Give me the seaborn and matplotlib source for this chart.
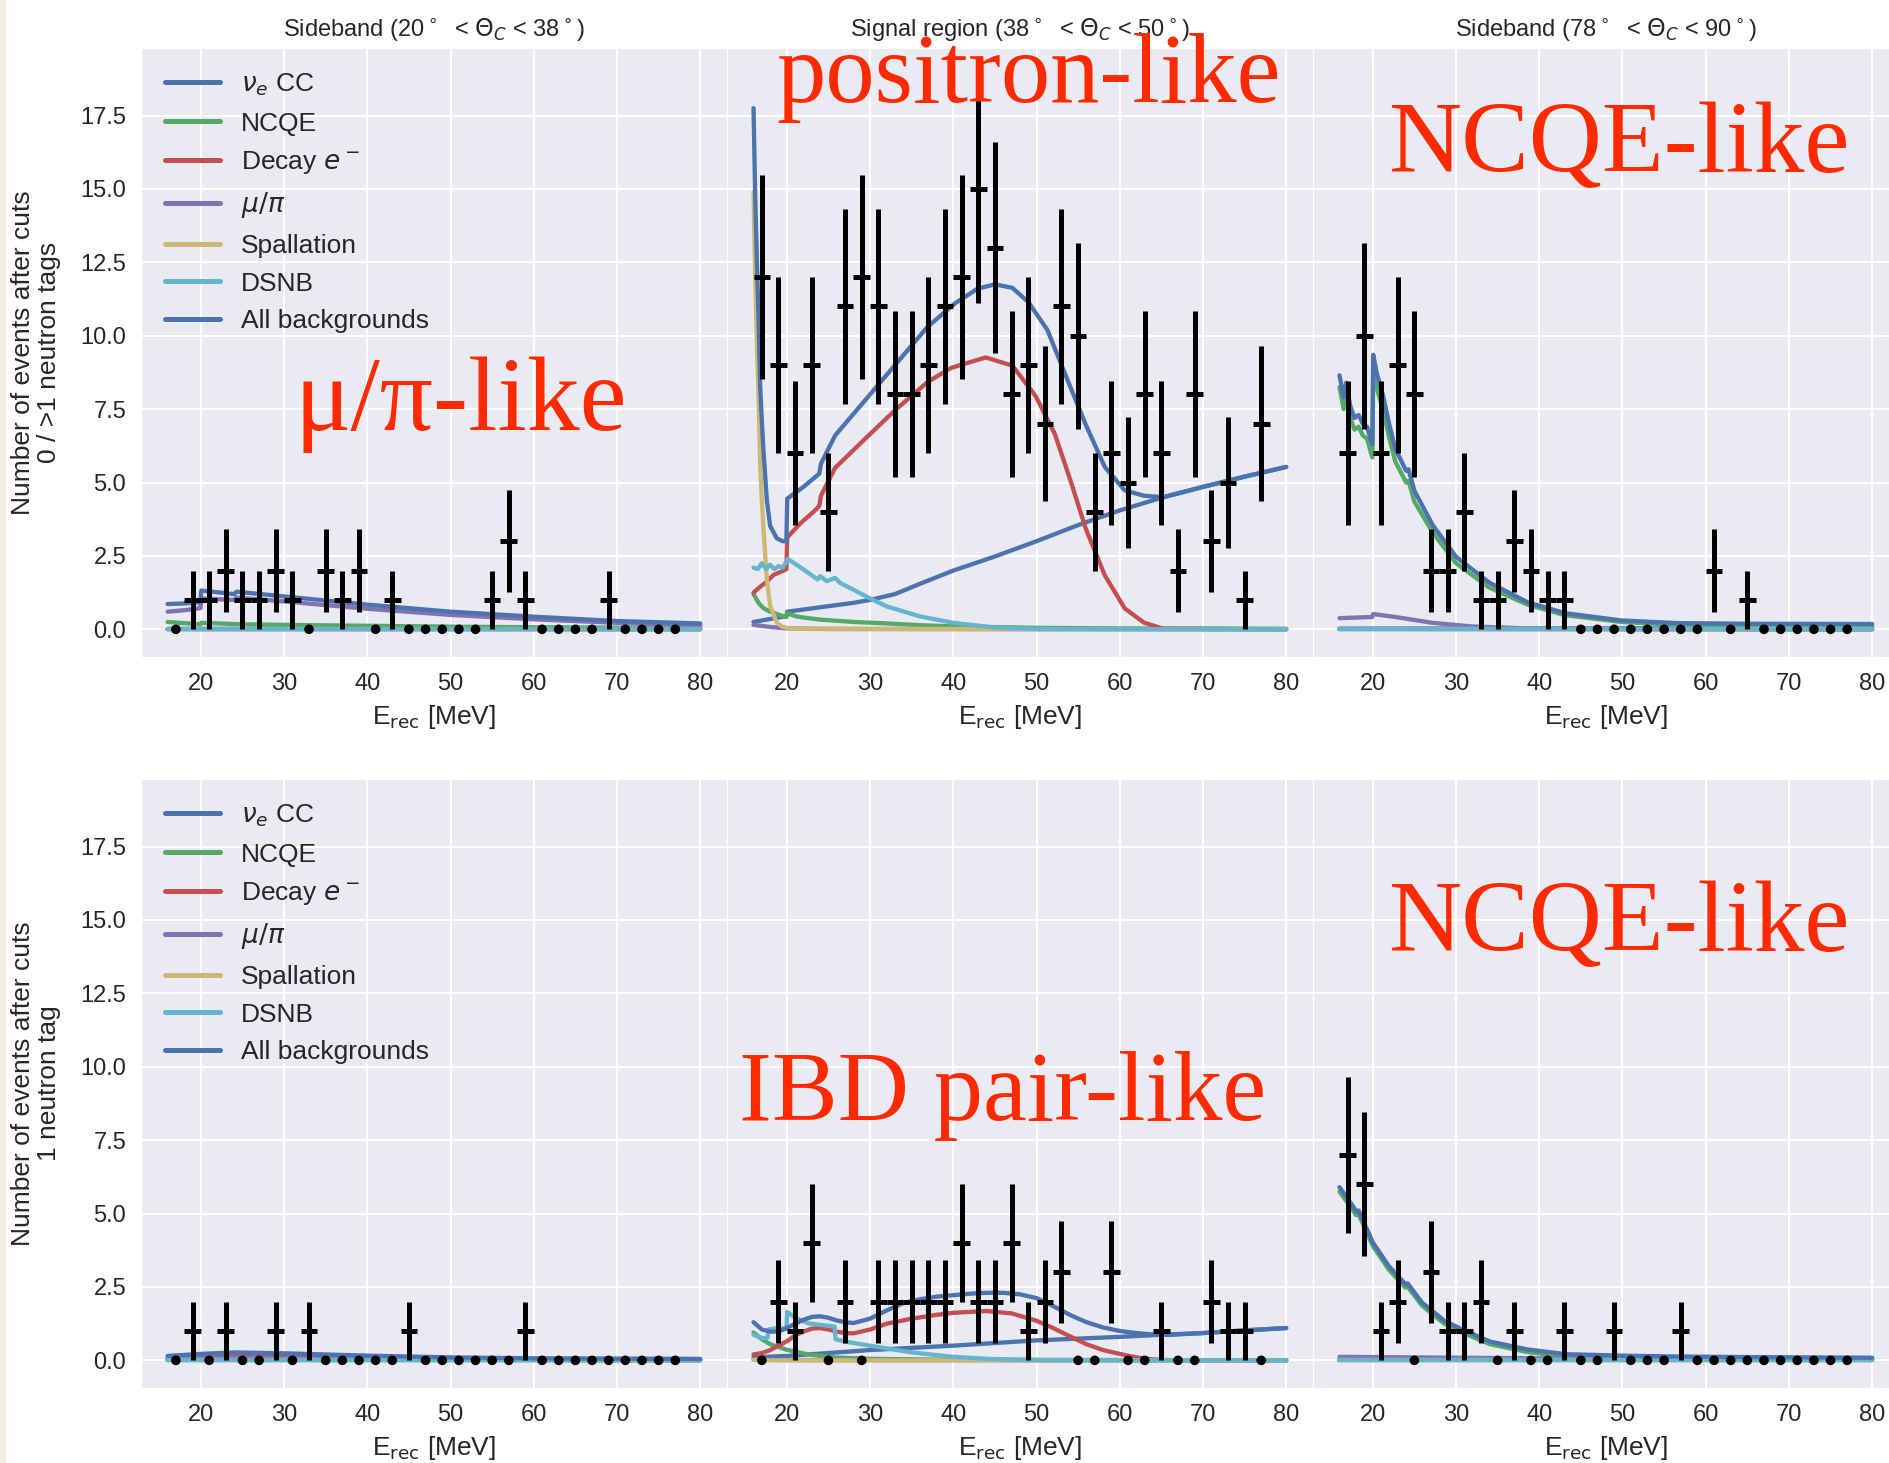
import numpy as np
import matplotlib
matplotlib.use("Agg")
import matplotlib.pyplot as plt
from matplotlib.lines import Line2D
from matplotlib.patches import Rectangle
import seaborn as sns

# ---------------------------------------------------------------- data
BIN_CENTERS = [17, 19, 21, 23, 25, 27, 29, 31, 33, 35, 37, 39, 41, 43, 45, 47,
               49, 51, 53, 55, 57, 59, 61, 63, 65, 67, 69, 71, 73, 75, 77]
BIN_HALF_WIDTH = 1.0

# observed counts per bin (row: 0/>1 neutron tags, 1 neutron tag)
TL_COUNTS = [0, 1, 1, 2, 1, 1, 2, 1, 0, 2, 1, 2, 0, 1, 0, 0, 0, 0, 0, 1, 3, 1, 0, 0, 0, 0, 1, 0, 0, 0, 0]
TM_COUNTS = [12, 9, 6, 9, 4, 11, 12, 11, 8, 8, 9, 11, 12, 15, 13, 8, 9, 7, 11, 10, 4, 6, 5, 8, 6, 2, 8, 3, 5, 1, 7]
TR_COUNTS = [6, 10, 6, 9, 8, 2, 2, 4, 1, 1, 3, 2, 1, 1, 0, 0, 0, 0, 0, 0, 0, 0, 2, 0, 1, 0, 0, 0, 0, 0, 0]
BL_COUNTS = [0, 1, 0, 1, 0, 0, 1, 0, 1, 0, 0, 0, 0, 0, 1, 0, 0, 0, 0, 0, 0, 1, 0, 0, 0, 0, 0, 0, 0, 0, 0]
BM_COUNTS = [0, 2, 1, 4, 0, 2, 0, 2, 2, 2, 2, 2, 4, 2, 2, 4, 1, 2, 3, 0, 0, 3, 0, 0, 1, 0, 0, 2, 1, 1, 0]
BR_COUNTS = [7, 6, 1, 2, 0, 3, 1, 1, 2, 0, 1, 0, 0, 1, 0, 0, 1, 0, 0, 0, 1, 0, 0, 0, 0, 0, 0, 0, 0, 0, 0]

# expected spectra: (E_rec [MeV], events) for each component
# --- top left: sideband 20-38 deg, 0 / >1 neutron tags
TL_NUE = ([16, 80], [0.01, 0.02])
TL_NCQE = ([16, 19.95, 20.05, 25, 30, 40, 50, 60, 80],
           [0.25, 0.17, 0.22, 0.17, 0.15, 0.12, 0.09, 0.07, 0.04])
TL_DECAY = ([16, 80], [0.01, 0.0])
TL_MUPI = ([16, 18, 19.95, 20.05, 24, 24.3, 30, 40, 50, 60, 70, 80],
           [0.6, 0.65, 0.72, 1.05, 1.0, 1.08, 0.95, 0.7, 0.49, 0.34, 0.22, 0.13])
TL_SPALL = ([16, 80], [0.0, 0.0])
TL_DSNB = ([16, 80], [0.01, 0.0])
TL_TOTAL = ([16, 18, 19.95, 20.05, 24, 24.3, 30, 40, 50, 60, 70, 80],
            [0.86, 0.88, 0.92, 1.32, 1.2, 1.28, 1.12, 0.84, 0.6, 0.43, 0.28, 0.2])

# --- top middle: signal region 38-50 deg, 0 / >1 neutron tags
TM_NUE = ([16, 19.95, 20.05, 24, 28, 30, 33, 36, 40, 45, 50, 55, 60, 65, 70, 75, 80],
          [0.25, 0.45, 0.6, 0.75, 0.9, 1.0, 1.2, 1.55, 2.0, 2.48, 3.0, 3.55, 4.05, 4.48, 4.85, 5.2, 5.53])
TM_NCQE = ([16, 16.6, 17.2, 18, 19.2, 19.95, 20.05, 21, 22, 24, 28, 32, 36, 40, 50, 60, 80],
           [1.2, 0.9, 0.72, 0.6, 0.48, 0.42, 0.55, 0.45, 0.4, 0.33, 0.25, 0.2, 0.14, 0.1, 0.05, 0.03, 0.02])
TM_DECAY = ([16, 16.8, 17.5, 18.4, 19.6, 19.95, 20.05, 21.6, 23.2, 23.9, 24.1, 25.8, 30, 33, 36.9,
             39.7, 43.9, 47.1, 49.9, 52.2, 54.1, 55.9, 58.2, 60.6, 62.9, 65.2, 80],
            [1.25, 1.45, 1.6, 1.85, 2.0, 2.05, 3.13, 3.6, 4.0, 4.2, 4.55, 5.5, 6.65, 7.46, 8.42,
             8.9, 9.26, 8.98, 7.94, 6.65, 5.05, 3.44, 1.84, 0.71, 0.23, 0.02, 0.0])
TM_MUPI = ([16, 18, 20, 25, 80], [0.15, 0.08, 0.03, 0.01, 0.0])
TM_SPALL = ([16, 16.2, 16.4, 16.6, 16.8, 17.0, 17.2, 17.6, 18.0, 18.8, 19.5, 20.5, 80],
            [14.9, 12.0, 9.8, 8.0, 5.6, 4.4, 3.4, 1.7, 0.8, 0.22, 0.08, 0.02, 0.0])
TM_DSNB = ([16, 16.5, 17, 17.5, 18, 18.5, 19, 19.5, 19.95, 20.1, 22, 23.7, 24, 24.8, 25.8, 26.4,
            28, 30, 32, 34, 36, 40, 45, 50, 80],
           [2.1, 2.05, 2.25, 2.05, 2.2, 2.05, 2.15, 2.1, 2.3, 2.4, 2.04, 1.7, 1.81, 1.64, 1.75, 1.58,
            1.35, 1.05, 0.78, 0.61, 0.44, 0.22, 0.06, 0.01, 0.0])
TM_TOTAL = ([16, 16.2, 16.4, 16.6, 16.8, 17.0, 17.2, 17.6, 18.0, 18.8, 19.5, 19.95, 20.05, 22,
             23.9, 24.1, 25.8, 30, 33, 36.9, 40.2, 42.9, 45, 47.1, 49, 51.3, 53.6, 55.9, 58.2,
             60.6, 62.9, 65.2, 70, 75, 80],
            [17.75, 14.8, 12.55, 10.7, 8.28, 7.08, 6.07, 4.39, 3.52, 3.1, 3.0, 3.0, 4.45, 4.85,
             5.3, 5.64, 6.6, 8.0, 9.0, 10.3, 11.1, 11.6, 11.75, 11.63, 11.15, 10.2, 8.58, 6.98, 5.53,
             4.73, 4.55, 4.5, 4.85, 5.2, 5.53])

# --- top right: sideband 78-90 deg, 0 / >1 neutron tags
TR_NUE = ([16, 80], [0.02, 0.05])
TR_NCQE = ([16, 16.5, 16.8, 17.3, 17.8, 18.3, 18.8, 19.3, 19.95, 20.05, 20.5, 21.2, 22, 22.7, 24,
            24.3, 25, 27.2, 30, 34, 38.6, 43.1, 49.9, 56.7, 65, 80],
           [8.25, 7.5, 8.0, 7.2, 6.8, 6.9, 6.6, 6.5, 5.85, 8.8, 8.2, 7.5, 6.5, 5.72, 5.0,
            5.05, 4.35, 3.3, 2.25, 1.42, 0.84, 0.48, 0.25, 0.15, 0.13, 0.12])
TR_DECAY = ([16, 80], [0.01, 0.0])
TR_MUPI = ([16, 19.95, 20.05, 22.7, 27.2, 31.8, 38.6, 50, 80],
           [0.38, 0.42, 0.52, 0.42, 0.22, 0.1, 0.03, 0.01, 0.0])
TR_SPALL = ([16, 80], [0.0, 0.0])
TR_DSNB = ([16, 80], [0.0, 0.0])
TR_TOTAL = ([16, 16.5, 16.8, 17.3, 17.8, 18.3, 18.8, 19.3, 19.95, 20.05, 20.5, 21.2, 22, 22.7, 24,
             24.3, 25, 27.2, 30, 34, 38.6, 43.1, 49.9, 56.7, 65, 80],
            [8.65, 7.9, 8.4, 7.6, 7.2, 7.3, 7.0, 6.9, 6.3, 9.35, 8.7, 8.0, 6.95, 6.16, 5.4,
             5.45, 4.72, 3.55, 2.47, 1.59, 0.92, 0.55, 0.3, 0.21, 0.19, 0.18])

# --- bottom left: sideband 20-38 deg, 1 neutron tag
BL_NUE = ([16, 80], [0.01, 0.02])
BL_NCQE = ([16, 30, 80], [0.05, 0.03, 0.01])
BL_DECAY = ([16, 20, 24, 30, 35, 40, 50, 60, 80], [0.04, 0.1, 0.14, 0.13, 0.1, 0.07, 0.03, 0.01, 0.0])
BL_MUPI = ([16, 24, 40, 60, 80], [0.05, 0.08, 0.06, 0.04, 0.02])
BL_SPALL = ([16, 80], [0.0, 0.0])
BL_DSNB = ([16, 30, 80], [0.02, 0.01, 0.0])
BL_TOTAL = ([16, 20, 24, 30, 35, 40, 50, 60, 80], [0.15, 0.22, 0.27, 0.24, 0.2, 0.16, 0.1, 0.07, 0.05])

# --- bottom middle: signal region 38-50 deg, 1 neutron tag
BM_NUE = ([16, 20, 30, 40, 50, 60, 65, 70, 75, 80], [0.1, 0.15, 0.35, 0.5, 0.68, 0.8, 0.87, 0.93, 1.02, 1.1])
BM_NCQE = ([16, 17, 18, 20, 22.6, 25.8, 30, 40, 80], [0.95, 0.72, 0.55, 0.36, 0.2, 0.1, 0.05, 0.02, 0.0])
BM_DECAY = ([16, 17, 18, 19, 20, 21, 22, 23, 24, 25, 26, 27, 28, 30, 32, 35, 38, 40, 44, 47, 50,
             52, 54, 56, 58, 60, 62, 64, 66, 80],
            [0.2, 0.25, 0.35, 0.5, 0.65, 0.85, 0.98, 1.08, 1.1, 1.05, 0.98, 0.93, 0.92, 1.05, 1.25,
             1.42, 1.55, 1.62, 1.68, 1.6, 1.35, 1.1, 0.82, 0.55, 0.35, 0.22, 0.1, 0.03, 0.0, 0.0])
BM_MUPI = ([16, 20, 80], [0.03, 0.01, 0.0])
BM_SPALL = ([16, 18, 80], [0.02, 0.0, 0.0])
BM_DSNB = ([16, 17.1, 17.7, 17.8, 18.9, 19.95, 20.05, 21.2, 22.6, 24.9, 25.75, 25.85, 27.2, 30.4,
            35, 39.6, 44.1, 50, 80],
           [0.87, 0.75, 0.78, 1.05, 1.1, 1.08, 1.65, 1.42, 1.26, 1.18, 1.15, 0.72, 0.63, 0.48,
            0.27, 0.13, 0.05, 0.01, 0.0])
BM_TOTAL = ([16, 17, 18, 19, 20, 21, 22, 23, 24, 25, 26, 27, 28, 30, 32, 34, 36, 38, 40, 42, 44,
             46, 48, 50, 52, 54, 56, 58, 60, 62, 64, 66, 70, 75, 80],
            [1.3, 1.05, 0.98, 0.98, 1.1, 1.25, 1.38, 1.48, 1.5, 1.45, 1.36, 1.3, 1.27, 1.42, 1.7,
             1.95, 2.08, 2.17, 2.22, 2.27, 2.3, 2.3, 2.25, 2.12, 1.85, 1.55, 1.3, 1.12, 1.0, 0.93,
             0.88, 0.87, 0.93, 1.02, 1.1])

# --- bottom right: sideband 78-90 deg, 1 neutron tag
BR_NUE = ([16, 80], [0.02, 0.04])
BR_NCQE = ([16, 17.5, 18, 18.3, 20, 21.9, 23.9, 24.2, 25.9, 28.6, 30.9, 34.1, 38.6, 43.2, 50, 56.7, 65.8, 80],
           [5.75, 5.15, 4.95, 4.97, 3.9, 3.1, 2.48, 2.5, 1.87, 1.25, 0.93, 0.55, 0.28, 0.13, 0.08, 0.06, 0.05, 0.04])
BR_DECAY = ([16, 80], [0.0, 0.0])
BR_MUPI = ([16, 30, 50, 80], [0.12, 0.09, 0.05, 0.02])
BR_SPALL = ([16, 80], [0.0, 0.0])
BR_DSNB = ([16, 80], [0.0, 0.0])
BR_TOTAL = ([16, 17.5, 18, 18.3, 20, 21.9, 23.9, 24.2, 25.9, 28.6, 30.9, 34.1, 38.6, 43.2, 50, 56.7, 65.8, 80],
            [5.9, 5.3, 5.08, 5.1, 4.02, 3.22, 2.6, 2.62, 1.97, 1.35, 1.03, 0.64, 0.37, 0.21, 0.16, 0.13, 0.11, 0.09])

COMPONENT_LABELS = [r"$\nu_e$ CC", "NCQE", r"Decay $e^-$", r"$\mu/\pi$",
                    "Spallation", "DSNB", "All backgrounds"]
COLUMN_TITLES = [r"Sideband (20$^\circ$  < $\Theta_C$ < 38$^\circ$)",
                 r"Signal region (38$^\circ$  < $\Theta_C$ < 50$^\circ$)",
                 r"Sideband (78$^\circ$  < $\Theta_C$ < 90$^\circ$)"]
ROW_YLABELS = ["Number of events after cuts\n0 / >1 neutron tags",
               "Number of events after cuts\n1 neutron tag"]
X_LABEL = r"E$_{\rm rec}$ [MeV]"
X_TICKS = [20, 30, 40, 50, 60, 70, 80]
Y_TICKS = [0.0, 2.5, 5.0, 7.5, 10.0, 12.5, 15.0, 17.5]

PANEL_TAGS = [("\u03bc/\u03c0-like", 0.1560, 0.706, 76),
              ("positron-like", 0.4111, 0.9306, 71),
              ("NCQE-like", 0.7348, 0.8824, 73),
              ("IBD pair-like", 0.3912, 0.2345, 71),
              ("NCQE-like", 0.7348, 0.350, 73)]

PANELS = [
    [(TL_NUE, TL_NCQE, TL_DECAY, TL_MUPI, TL_SPALL, TL_DSNB, TL_TOTAL), TL_COUNTS],
    [(TM_NUE, TM_NCQE, TM_DECAY, TM_MUPI, TM_SPALL, TM_DSNB, TM_TOTAL), TM_COUNTS],
    [(TR_NUE, TR_NCQE, TR_DECAY, TR_MUPI, TR_SPALL, TR_DSNB, TR_TOTAL), TR_COUNTS],
    [(BL_NUE, BL_NCQE, BL_DECAY, BL_MUPI, BL_SPALL, BL_DSNB, BL_TOTAL), BL_COUNTS],
    [(BM_NUE, BM_NCQE, BM_DECAY, BM_MUPI, BM_SPALL, BM_DSNB, BM_TOTAL), BM_COUNTS],
    [(BR_NUE, BR_NCQE, BR_DECAY, BR_MUPI, BR_SPALL, BR_DSNB, BR_TOTAL), BR_COUNTS],
]

# ---------------------------------------------------------------- style
sns.set_style("darkgrid", {"grid.linewidth": 1.3})
plt.rcParams["font.family"] = ["Liberation Sans", "DejaVu Sans"]
plt.rcParams["mathtext.fontset"] = "dejavusans"
plt.rcParams["xtick.labelsize"] = 17
plt.rcParams["ytick.labelsize"] = 17
plt.rcParams["grid.linewidth"] = 1.4

palette = sns.color_palette("deep6")
colors = list(palette) + [palette[0]]

fig, axes = plt.subplots(2, 3, figsize=(18.89, 14.63), dpi=100, sharey=True)
fig.subplots_adjust(left=0.0746, right=1.0052, bottom=0.0513, top=0.9674,
                    wspace=0.0, hspace=0.2)

centers = np.array(BIN_CENTERS, dtype=float)

for idx, (curves, counts) in enumerate(PANELS):
    ax = axes.flat[idx]
    row, col = divmod(idx, 3)
    for (xs, ys), color in zip(curves, colors):
        sns.lineplot(x=xs, y=ys, ax=ax, color=color, lw=3.1, legend=False,
                     estimator=None, sort=False)

    n = np.array(counts, dtype=float)
    filled = n > 0
    ax.errorbar(centers[filled], n[filled], xerr=BIN_HALF_WIDTH, yerr=np.sqrt(n[filled]),
                fmt="none", ecolor="black", elinewidth=3.6, capsize=0, zorder=6)
    sns.scatterplot(x=centers[~filled], y=n[~filled], ax=ax, color="black", s=48,
                    edgecolor="none", zorder=6, legend=False)

    ax.set_xlim(12.8, 83.2)
    ax.set_ylim(-0.94, 19.81)
    ax.set_xticks(X_TICKS)
    ax.set_yticks(Y_TICKS)
    ax.tick_params(axis="x", pad=8, colors=".15")
    ax.tick_params(axis="y", pad=7, colors=".15")
    ax.set_xlabel(X_LABEL, fontsize=19, labelpad=6, color=".15")
    if row == 0:
        ax.set_title(COLUMN_TITLES[col], fontsize=17, pad=8, color=".15")
    if col == 0:
        ax.set_ylabel(ROW_YLABELS[row], fontsize=19, labelpad=14, linespacing=1.1,
                      color=".15")
        handles = [Line2D([], [], color=c, lw=3.6) for c in colors]
        ax.legend(handles, COMPONENT_LABELS, loc="upper left", frameon=False,
                  fontsize=19, handlelength=2.1, labelspacing=0.52,
                  handletextpad=0.8, borderaxespad=0.5, borderpad=0.4)
    else:
        ax.set_ylabel("")

for text, x, y, size in PANEL_TAGS:
    fig.text(x, y, text, fontsize=size, color="#ff2a00", ha="left", va="baseline",
             family=["Liberation Serif", "DejaVu Serif"])

fig.add_artist(Rectangle((0, 0), 6 / 1889, 1, transform=fig.transFigure,
                         facecolor="#f3eee3", edgecolor="none", zorder=-1))

fig.savefig("out.png", dpi=100)
